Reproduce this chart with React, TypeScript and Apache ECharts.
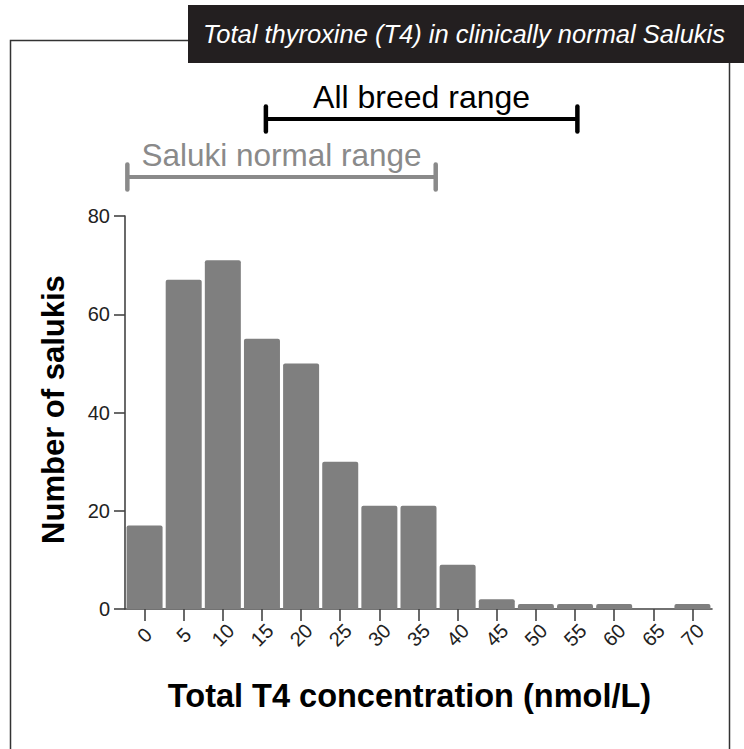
import React, { useEffect, useRef } from "react";
import * as echarts from "echarts";

const categories = ["0", "5", "10", "15", "20", "25", "30", "35", "40", "45", "50", "55", "60", "65", "70"];
const counts = [17, 67, 71, 55, 50, 30, 21, 21, 9, 2, 1, 1, 1, 0, 1];
const yTicks = { min: 0, max: 80, interval: 20 };
const rangeNames = ["All breed range", "Saluki normal range"];
const rangeStarts = [15.5, -2.2];
const rangeEnds = [55.3, 37.2];
const rangeColors = ["#000000", "#8a8a8a"];
const rangeFontSizes = [32, 31.5];
const titleText = "Total thyroxine (T4) in clinically normal Salukis";
const xTitle = "Total T4 concentration (nmol/L)";
const yTitle = "Number of salukis";

const FONT = '"Liberation Sans", Arial, sans-serif';

export default function App() {
  const ref = useRef<HTMLDivElement>(null);
  useEffect(() => {
    if (!ref.current) return;
    const chart = echarts.init(ref.current, undefined, { renderer: "svg" });
    const rangeData = rangeNames.map((_, i) => [rangeStarts[i], rangeEnds[i], i]);
    chart.setOption({
      animation: false,
      backgroundColor: "#ffffff",
      textStyle: { fontFamily: FONT },
      grid: [
        { left: 125, right: 32, top: 216, bottom: 140 },
        { left: 125, right: 32, top: 90, height: 116 },
      ],
      xAxis: [
        {
          type: "category",
          gridIndex: 0,
          data: categories,
          boundaryGap: true,
          axisLine: { show: true, lineStyle: { color: "#444", width: 1.6 } },
          axisTick: { show: true, alignWithLabel: true, length: 12, lineStyle: { color: "#444", width: 1.6 } },
          axisLabel: {
            rotate: 45,
            align: "center",
            verticalAlign: "middle",
            margin: 26,
            fontSize: 20,
            color: "#222",
            fontFamily: FONT,
          },
          name: xTitle,
          nameLocation: "middle",
          nameGap: 70,
          nameTextStyle: { fontSize: 32.5, fontWeight: "bold", color: "#000", fontFamily: FONT, padding: [0, 18, 0, 0] },
        },
        { type: "value", gridIndex: 1, min: -2.5, max: 72.5, show: false },
      ],
      yAxis: [
        {
          type: "value",
          gridIndex: 0,
          min: yTicks.min,
          max: yTicks.max,
          interval: yTicks.interval,
          splitLine: { show: false },
          axisLine: { show: true, lineStyle: { color: "#444", width: 1.6 } },
          axisTick: { show: true, length: 11, lineStyle: { color: "#444", width: 1.6 } },
          axisLabel: { fontSize: 20, color: "#222", margin: 15, fontFamily: FONT },
          name: yTitle,
          nameLocation: "middle",
          nameRotate: 90,
          nameGap: 56,
          nameTextStyle: { fontSize: 31, fontWeight: "bold", color: "#000", fontFamily: FONT, padding: [0, 0, 0, 6] },
        },
        { type: "category", gridIndex: 1, data: rangeNames, inverse: true, show: false },
      ],
      series: [
        {
          type: "bar",
          xAxisIndex: 0,
          yAxisIndex: 0,
          data: counts,
          barCategoryGap: "8%",
          itemStyle: { color: "#7f7f7f", borderRadius: [2, 2, 0, 0] },
        },
        {
          type: "custom",
          xAxisIndex: 1,
          yAxisIndex: 1,
          data: rangeData,
          renderItem: (params: any, api: any) => {
            const s = api.coord([api.value(0), api.value(2)]);
            const e = api.coord([api.value(1), api.value(2)]);
            const color = rangeColors[params.dataIndex];
            const label = rangeNames[params.dataIndex];
            const fs = rangeFontSizes[params.dataIndex];
            const cap = 12.5;
            return {
              type: "group",
              children: [
                { type: "line", shape: { x1: s[0], y1: s[1], x2: e[0], y2: e[1] }, style: { stroke: color, lineWidth: 4 } },
                { type: "line", shape: { x1: s[0], y1: s[1] - cap, x2: s[0], y2: s[1] + cap }, style: { stroke: color, lineWidth: 4.5, lineCap: "round" } },
                { type: "line", shape: { x1: e[0], y1: e[1] - cap, x2: e[0], y2: e[1] + cap }, style: { stroke: color, lineWidth: 4.5, lineCap: "round" } },
                {
                  type: "text",
                  x: (s[0] + e[0]) / 2,
                  y: s[1] - 22,
                  style: { text: label, fill: color, font: `${fs}px ${FONT}`, textAlign: "center", textVerticalAlign: "middle" },
                },
              ],
            };
          },
        },
      ],
      graphic: [
        {
          type: "polyline",
          shape: { points: [[188, 40.5], [10.5, 40.5], [10.5, 749]] },
          style: { stroke: "#333", lineWidth: 1.5, fill: "none" },
        },
        {
          type: "line",
          shape: { x1: 729.5, y1: 63, x2: 729.5, y2: 749 },
          style: { stroke: "#333", lineWidth: 1.5 },
        },
        {
          type: "rect",
          shape: { x: 188, y: 5, width: 556, height: 58 },
          style: { fill: "#231f20" },
        },
        {
          type: "text",
          x: 203,
          y: 34,
          style: {
            text: titleText,
            fill: "#ffffff",
            font: `italic 25.5px ${FONT}`,
            textAlign: "left",
            textVerticalAlign: "middle",
          },
        },
      ],
    });
    return () => chart.dispose();
  }, []);
  return <div ref={ref} style={{ position: "fixed", left: 0, top: 0, width: 744, height: 749 }} />;
}
